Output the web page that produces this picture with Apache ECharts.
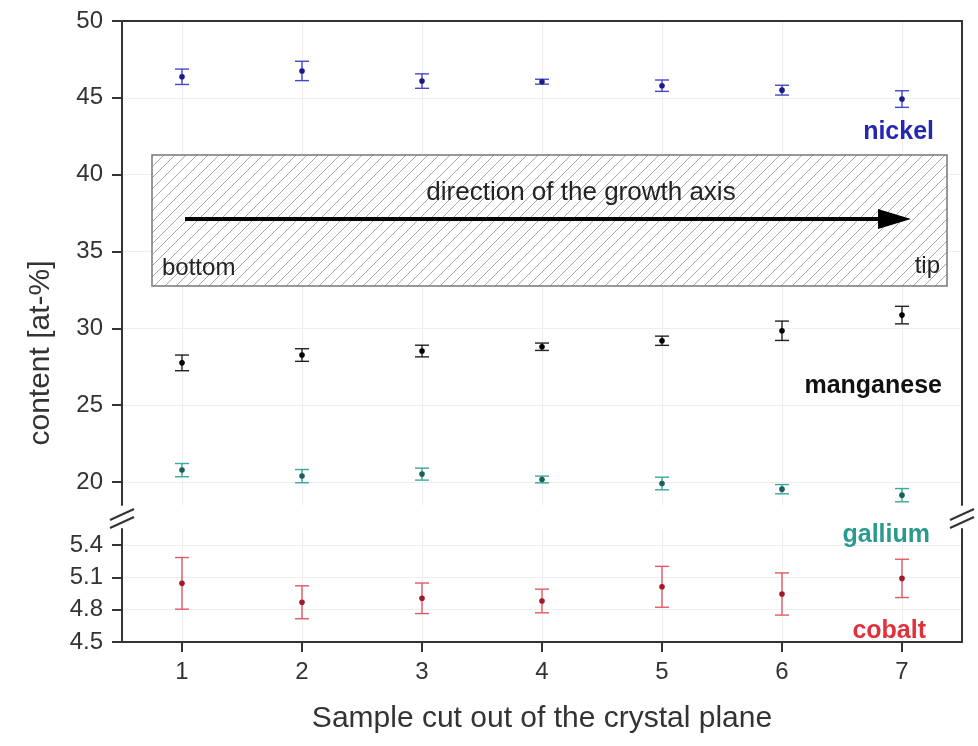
<!DOCTYPE html>
<html>
<head>
<meta charset="utf-8">
<script src="https://cdn.jsdelivr.net/npm/echarts@6/dist/echarts.min.js"></script>
<style>html,body{margin:0;padding:0;background:#fff;}#c{width:978px;height:746px;}</style>
</head>
<body>
<div id="c"></div>
<script>
// ---- data ----
const samples = [1, 2, 3, 4, 5, 6, 7];
const upperTicks = [20, 25, 30, 35, 40, 45, 50];
const lowerTicks = [4.5, 4.8, 5.1, 5.4];
const nickel = [46.37, 46.75, 46.09, 46.05, 45.79, 45.50, 44.92];
const nickelErr = [0.50, 0.63, 0.47, 0.16, 0.37, 0.32, 0.54];
const manganese = [27.75, 28.26, 28.52, 28.80, 29.19, 29.84, 30.86];
const manganeseErr = [0.51, 0.41, 0.38, 0.24, 0.30, 0.63, 0.57];
const gallium = [20.77, 20.38, 20.51, 20.16, 19.90, 19.53, 19.14];
const galliumErr = [0.43, 0.43, 0.39, 0.22, 0.41, 0.30, 0.43];
const cobalt = [5.045, 4.869, 4.906, 4.881, 5.013, 4.946, 5.091];
const cobaltErr = [0.24, 0.153, 0.142, 0.11, 0.19, 0.196, 0.178];

const FONT = 'Liberation Sans, Arial, sans-serif';

function zip(v, e) { return samples.map((s, i) => [s, v[i], e[i]]); }

function errSeries(name, v, e, color, dot, xi, yi) {
  return {
    name: name, type: 'custom', xAxisIndex: xi, yAxisIndex: yi,
    data: zip(v, e), encode: { x: 0, y: 1 },
    renderItem: function (params, api) {
      const x = api.value(0), val = api.value(1), er = api.value(2);
      const c = api.coord([x, val]);
      const t = api.coord([x, val + er]);
      const b = api.coord([x, val - er]);
      const w = 7;
      const st = { stroke: color, lineWidth: 1.4 };
      return {
        type: 'group', children: [
          { type: 'line', shape: { x1: c[0], y1: t[1], x2: c[0], y2: b[1] }, style: st },
          { type: 'line', shape: { x1: c[0] - w, y1: t[1], x2: c[0] + w, y2: t[1] }, style: st },
          { type: 'line', shape: { x1: c[0] - w, y1: b[1], x2: c[0] + w, y2: b[1] }, style: st },
          { type: 'circle', shape: { cx: c[0], cy: c[1], r: 2.8 }, style: { fill: dot } }
        ]
      };
    }
  };
}

// hatch pattern
const P = 11;
const pc = document.createElement('canvas');
pc.width = P; pc.height = P;
const g = pc.getContext('2d');
g.fillStyle = '#ffffff'; g.fillRect(0, 0, P, P);
g.strokeStyle = '#a8a8a8'; g.lineWidth = 1;
g.beginPath();
g.moveTo(-1, P + 1); g.lineTo(P + 1, -1);
g.moveTo(-P / 2 - 1, P / 2 + 1); g.lineTo(P / 2 + 1, -P / 2 - 1);
g.moveTo(P / 2 - 1, P * 1.5 + 1); g.lineTo(P * 1.5 + 1, P / 2 - 1);
g.stroke();

const axisTextColor = '#333333';
const axisLineStyle = { color: '#333', width: 2 };

const chart = echarts.init(document.getElementById('c'), null, { renderer: 'canvas' });
const option = {
  backgroundColor: '#ffffff',
  animation: false,
  grid: [
    { left: 122, right: 16, top: 21, height: 484 },
    { left: 122, right: 16, top: 529, height: 113 }
  ],
  xAxis: [
    { gridIndex: 0, type: 'value', min: 0.5, max: 7.5, position: 'top',
      axisLine: { show: true, onZero: false, lineStyle: axisLineStyle },
      axisTick: { show: false, customValues: samples },
      axisLabel: { show: false, customValues: samples },
      splitLine: { show: true, lineStyle: { color: '#eeeeee', width: 1 } } },
    { gridIndex: 1, type: 'value', min: 0.5, max: 7.5, position: 'bottom',
      axisLine: { show: true, onZero: false, lineStyle: axisLineStyle },
      axisTick: { show: true, inside: false, length: 10, customValues: samples, lineStyle: { color: '#333', width: 2 } },
      axisLabel: { show: true, customValues: samples, margin: 18, color: axisTextColor, fontSize: 24, fontFamily: FONT },
      splitLine: { show: true, lineStyle: { color: '#eeeeee', width: 1 } },
      name: 'Sample cut out of the crystal plane', nameLocation: 'middle', nameGap: 62,
      nameTextStyle: { color: axisTextColor, fontSize: 30, fontFamily: FONT } }
  ],
  yAxis: [
    { gridIndex: 0, type: 'value', min: 18.5, max: 50, position: 'left',
      axisLine: { show: true, onZero: false, lineStyle: axisLineStyle },
      axisTick: { show: true, length: 10, customValues: upperTicks, lineStyle: { color: '#333', width: 2 } },
      axisLabel: { customValues: upperTicks, margin: 19, color: axisTextColor, fontSize: 24, fontFamily: FONT },
      splitLine: { show: true, lineStyle: { color: '#eeeeee', width: 1 } } },
    { gridIndex: 0, type: 'value', min: 18.5, max: 50, position: 'right',
      axisLine: { show: true, onZero: false, lineStyle: axisLineStyle },
      axisTick: { show: false }, axisLabel: { show: false }, splitLine: { show: false } },
    { gridIndex: 1, type: 'value', min: 4.5, max: 5.55, position: 'left',
      axisLine: { show: true, onZero: false, lineStyle: axisLineStyle },
      axisTick: { show: true, length: 10, customValues: lowerTicks, lineStyle: { color: '#333', width: 2 } },
      axisLabel: { customValues: lowerTicks, margin: 19, color: axisTextColor, fontSize: 24, fontFamily: FONT,
        formatter: v => Number(v).toFixed(1) },
      splitLine: { show: true, lineStyle: { color: '#eeeeee', width: 1 } } },
    { gridIndex: 1, type: 'value', min: 4.5, max: 5.55, position: 'right',
      axisLine: { show: true, onZero: false, lineStyle: axisLineStyle },
      axisTick: { show: false }, axisLabel: { show: false }, splitLine: { show: false } }
  ],
  series: [
    errSeries('nickel', nickel, nickelErr, '#4646c8', '#1a1a8a', 0, 0),
    errSeries('manganese', manganese, manganeseErr, '#222222', '#000000', 0, 0),
    errSeries('gallium', gallium, galliumErr, '#3aa89a', '#1f5f5a', 0, 0),
    errSeries('cobalt', cobalt, cobaltErr, '#e05a64', '#a01a28', 1, 2)
  ],
  graphic: [
    { type: 'rect', z: 1, shape: { x: 152, y: 155, width: 795, height: 131 },
      style: { fill: { image: pc, repeat: 'repeat' }, stroke: '#777', lineWidth: 1.5 } },
    { type: 'line', z: 2, shape: { x1: 185, y1: 219, x2: 882, y2: 219 }, style: { stroke: '#000', lineWidth: 4 } },
    { type: 'polygon', z: 2, shape: { points: [[878, 209], [911, 219], [878, 229]] }, style: { fill: '#000' } },
    { type: 'text', z: 3, x: 581, y: 193, style: { text: 'direction of the growth axis', fill: '#222', font: '26px ' + FONT, align: 'center', verticalAlign: 'middle' } },
    { type: 'text', z: 3, x: 162, y: 268, style: { text: 'bottom', fill: '#222', font: '24px ' + FONT, align: 'left', verticalAlign: 'middle' } },
    { type: 'text', z: 3, x: 940, y: 266, style: { text: 'tip', fill: '#222', font: '24px ' + FONT, align: 'right', verticalAlign: 'middle' } },
    { type: 'text', z: 3, x: 934, y: 132, style: { text: 'nickel', fill: '#2626b4', font: 'bold 25px ' + FONT, align: 'right', verticalAlign: 'middle' } },
    { type: 'text', z: 3, x: 942, y: 386, style: { text: 'manganese', fill: '#111', font: 'bold 25px ' + FONT, align: 'right', verticalAlign: 'middle' } },
    { type: 'text', z: 3, x: 930, y: 535, style: { text: 'gallium', fill: '#2a9a90', font: 'bold 25px ' + FONT, align: 'right', verticalAlign: 'middle' } },
    { type: 'text', z: 3, x: 926, y: 631, style: { text: 'cobalt', fill: '#e0303c', font: 'bold 25px ' + FONT, align: 'right', verticalAlign: 'middle' } },
    { type: 'text', z: 3, x: 41, y: 353, rotation: Math.PI / 2, style: { text: 'content [at-%]', fill: axisTextColor, font: '30px ' + FONT, align: 'center', verticalAlign: 'middle' } },
    // axis break marks
    { type: 'rect', z: 4, shape: { x: 116, y: 506, width: 12, height: 22 }, style: { fill: '#fff' } },
    { type: 'rect', z: 4, shape: { x: 956, y: 506, width: 12, height: 22 }, style: { fill: '#fff' } },
    { type: 'line', z: 5, shape: { x1: 110, y1: 520, x2: 134, y2: 509 }, style: { stroke: '#333', lineWidth: 2 } },
    { type: 'line', z: 5, shape: { x1: 110, y1: 528, x2: 134, y2: 517 }, style: { stroke: '#333', lineWidth: 2 } },
    { type: 'line', z: 5, shape: { x1: 950, y1: 520, x2: 974, y2: 509 }, style: { stroke: '#333', lineWidth: 2 } },
    { type: 'line', z: 5, shape: { x1: 950, y1: 528, x2: 974, y2: 517 }, style: { stroke: '#333', lineWidth: 2 } }
  ]
};
chart.setOption(option);
</script>
</body>
</html>
